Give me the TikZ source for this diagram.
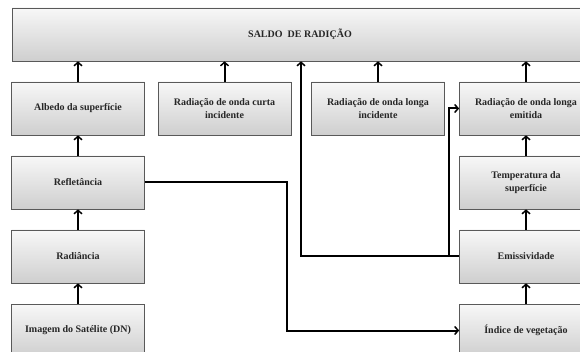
\documentclass[tikz,border=0pt]{standalone}
\usepackage{fontspec}
\setmainfont{Liberation Serif}
\usetikzlibrary{arrows.meta}

\begin{document}
\begin{tikzpicture}[x=1pt,y=-1pt]

      \useasboundingbox (0,0) rectangle (580,352);
      \clip (0,0) rectangle (580,352);

      \begin{scope}[every node/.style={draw=gray!70!black,line width=0.7pt,
          top color=gray!6,bottom color=gray!38,minimum height=53pt,
          minimum width=133pt,align=center,inner sep=2pt,
          font=\bfseries\fontsize{10}{13}\selectfont,text=black!85}]
        \node (saldo)   at (300,34.5)  [minimum width=576pt] {SALDO \ DE RADIÇÃO};
        \node (albedo)  at (78,108.5)  {Albedo da superfície};
        \node (curta)   at (224.5,108.5) {Radiação de onda curta\\incidente};
        \node (longa)   at (378,108.5) {Radiação de onda longa\\incidente};
        \node (emitida) at (526,108.5) {Radiação de onda longa\\emitida};
        \node (refl)    at (78,182.5)  {Refletância};
        \node (temp)    at (526,182.5) {Temperatura da\\superfície};
        \node (rad)     at (78,256.5)  {Radiância};
        \node (emis)    at (526,256.5) {Emissividade};
        \node (img)     at (78,330.5)  {Imagem do Satélite (DN)};
        \node (ndvi)    at (526,330.5) {Índice de vegetação};
      \end{scope}

      \coordinate (split) at (449,256.5);

      \begin{scope}[line width=2pt,
          -{Straight Barb[length=3.5pt,width=8pt,line width=1.5pt]}]
        % setas verticais
        \draw (albedo.north)  -- (albedo.north |- saldo.south);
        \draw (curta.north)   -- (curta.north |- saldo.south);
        \draw (longa.north)   -- (longa.north |- saldo.south);
        \draw (emitida.north) -- (emitida.north |- saldo.south);
        \draw (img)  -- (rad);
        \draw (rad)  -- (refl);
        \draw (refl) -- (albedo);
        \draw (ndvi) -- (emis);
        \draw (emis) -- (temp);
        \draw (temp) -- (emitida);
        % ligacoes com cotovelo
        \draw (refl.east) -- ++(142,0) |- (ndvi.west);
        \draw (emis.west) -| ([xshift=1pt]saldo.south);
        \draw (split) |- (emitida.west);
      \end{scope}

    \end{tikzpicture}
\end{document}
